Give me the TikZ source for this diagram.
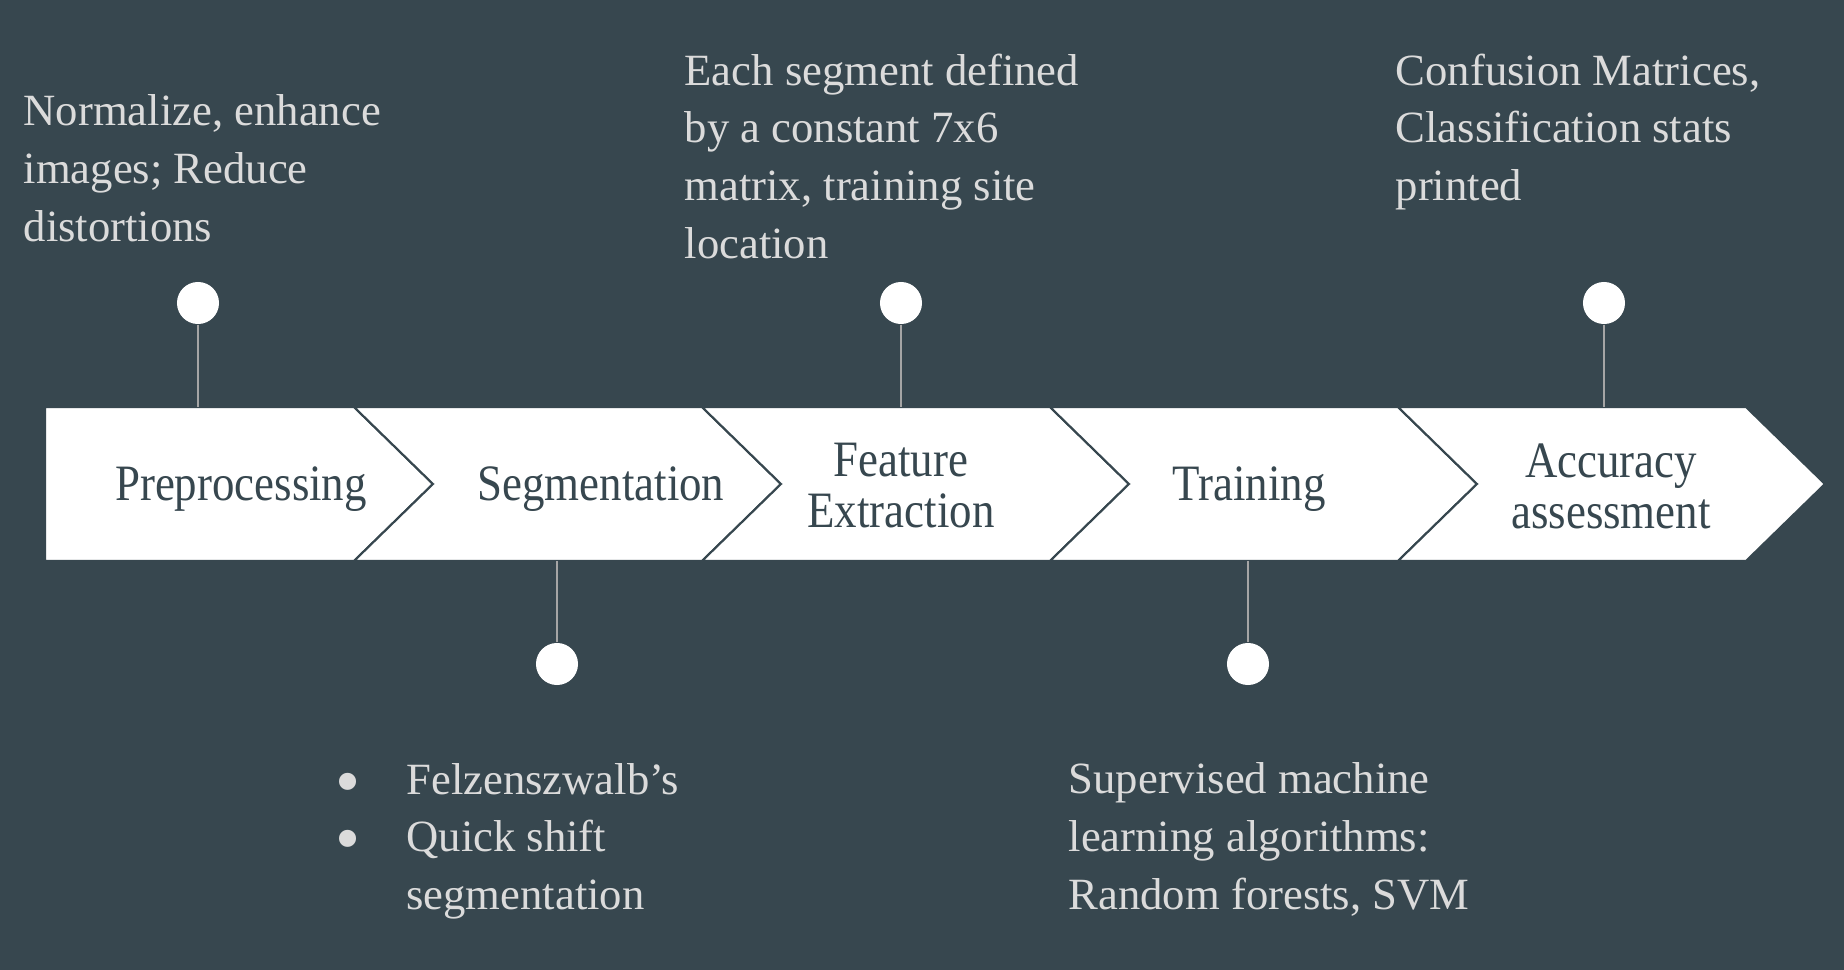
\documentclass[tikz,border=0pt]{standalone}
\usepackage{fontspec}
\setmainfont{Liberation Serif}
\newfontfamily\stepfont[FakeStretch=0.88]{Liberation Serif}
\definecolor{slate}{RGB}{55,71,79}
\definecolor{notegray}{RGB}{219,219,219}
\definecolor{stemgray}{RGB}{165,165,165}
\newcommand{\notebullet}{\raisebox{-0.25em}[0.5em][0pt]{\scalebox{1.6}{\textbullet}}}
\tikzset{
  chevron/.style={fill=white, draw=slate, line width=0.6pt, line join=miter},
  steplabel/.style={text=slate, font=\stepfont\fontsize{14.5}{14.5}\selectfont, align=center},
  notetext/.style={text=notegray, font=\fontsize{12.7}{16.4}\selectfont, align=left, anchor=north west, inner sep=0pt},
  dot/.style={circle, fill=white, minimum size=0.42cm, inner sep=0pt},
  stemline/.style={draw=stemgray, line width=0.5pt}
}
\begin{document}
\begin{tikzpicture}[x=0.01cm, y=-0.01cm]
  % background
  \fill[slate] (0,0) rectangle (1844,970);
  \useasboundingbox (0,0) rectangle (1844,970);
  \coordinate (bandtop) at (0,407);
  \coordinate (bandbot) at (0,561);
  % first step, flat on the left
  \draw[chevron] (45,407) -- (354,407) -- (433,484) -- (354,561) -- (45,561) -- cycle;
  % remaining steps
  \foreach \a/\b in {354/702, 702/1050, 1050/1398, 1398/1746}
    \draw[chevron] (\a,407) -- (\b,407) -- (\b+79,484) -- (\b,561) -- (\a,561) -- (\a+79,484) -- cycle;
  % step labels
  \node[steplabel] (prep) at (241,489) {Preprocessing};
  \node[steplabel] (seg) at (601,489) {Segmentation};
  \node[steplabel] (feat) at (901,486) {Feature\\Extraction};
  \node[steplabel] (train) at (1249,489) {Training};
  \node[steplabel] (acc) at (1611,486) {Accuracy\\assessment};
  % markers above and below the band
  \node[dot] (prepdot) at (198,303) {};
  \node[dot] (featdot) at (901,303) {};
  \node[dot] (accdot) at (1604,303) {};
  \node[dot] (segdot) at (557,664) {};
  \node[dot] (traindot) at (1248,664) {};
  \draw[stemline] (prepdot) -- (prepdot |- bandtop);
  \draw[stemline] (featdot) -- (featdot |- bandtop);
  \draw[stemline] (accdot) -- (accdot |- bandtop);
  \draw[stemline] (segdot) -- (segdot |- bandbot);
  \draw[stemline] (traindot) -- (traindot |- bandbot);
  % notes
  \node[notetext] (prepnote) at (23,94) {Normalize, enhance\\images; Reduce\\distortions};
  \node[notetext] (featnote) at (684,53) {Each segment defined\\by a constant 7x6\\matrix, training site\\location};
  \node[notetext] (accnote) at (1395,53) {Confusion Matrices,\\Classification stats\\printed};
  \node[notetext] (segnote) at (335,753) {\begin{tabular}{@{}l@{\hspace{13pt}}l@{}}
    \notebullet & Felzenszwalb’s\\
    \notebullet & Quick shift\\
    & segmentation
  \end{tabular}};
  \node[notetext] (trainnote) at (1068,762) {Supervised machine\\learning algorithms:\\Random forests, SVM};
\end{tikzpicture}
\end{document}
